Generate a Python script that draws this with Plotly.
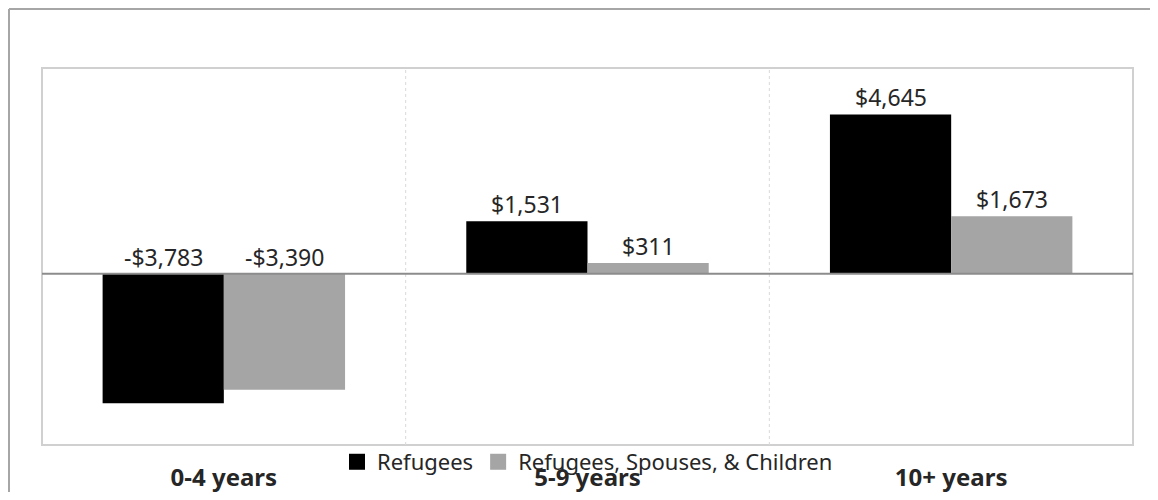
import plotly.graph_objects as go

categories = ["0-4 years", "5-9 years", "10+ years"]
refugees = [-3783, 1531, 4645]
family = [-3390, 311, 1673]
series_names = ["Refugees", "Refugees, Spouses, & Children"]
colors = ["#000000", "#a5a5a5"]

# page body has an 8px margin; figure is placed at (8, 8)
OFF = 8
W, H = 1142, 484
ML, MT = 42 - OFF, 68 - OFF
plot_w, plot_h = 1091, 377
MR = W - ML - plot_w
MB = H - MT - plot_h
x_range = [-0.5, 2.5]
px_per_cat = plot_w / (x_range[1] - x_range[0])
bar_w_px = px_per_cat / 3.0

def fmt(v):
    return ("-$" if v < 0 else "$") + f"{abs(v):,}"

fig = go.Figure()
for name, vals, col in zip(series_names, [refugees, family], colors):
    fig.add_trace(go.Bar(x=categories, y=vals, name=name, marker_color=col,
                         marker_line_width=0, showlegend=False))
# legend entries with larger square swatches
for name, col in zip(series_names, colors):
    fig.add_trace(go.Scatter(x=[None], y=[None], mode="markers", name=name,
                             marker=dict(symbol="square", size=16, color=col)))

annotations = []
for k, vals in enumerate([refugees, family]):
    shift = (-0.5 if k == 0 else 0.5) * bar_w_px
    for c, v in zip(categories, vals):
        annotations.append(dict(x=c, y=max(v, 0), text=fmt(v), showarrow=False,
                                xref="x", yref="y", yanchor="bottom", xshift=shift,
                                yshift=-1, font=dict(size=23, color="#262626",
                                                     family="Noto Sans")))

top_y = (445 - 9) / plot_h
left_x = (9 - 42) / plot_w
right_x = (1150 - 42) / plot_w
shapes = [
    # outer chart border (top and left edges visible)
    dict(type="line", xref="paper", yref="paper", x0=left_x, x1=right_x, y0=top_y, y1=top_y,
         line=dict(color="#a6a6a6", width=2), layer="below"),
    dict(type="line", xref="paper", yref="paper", x0=left_x, x1=left_x, y0=-0.4, y1=top_y,
         line=dict(color="#a6a6a6", width=2), layer="below"),
    # plot area box
    dict(type="rect", xref="paper", yref="paper", x0=0, x1=1, y0=0, y1=1,
         line=dict(color="#d0d0d0", width=2), layer="below"),
]
for b in [0.5, 1.5]:
    shapes.append(dict(type="line", xref="x", yref="paper", x0=b, x1=b, y0=0, y1=1,
                       line=dict(color="#d9d9d9", width=1, dash="dot"), layer="below"))
shapes.append(dict(type="line", xref="paper", yref="y", x0=0, x1=1, y0=0, y1=0,
                   line=dict(color="#8c8c8c", width=2)))

fig.update_layout(
    width=W, height=H,
    margin=dict(l=ML, r=MR, t=MT, b=MB, autoexpand=False),
    paper_bgcolor="white", plot_bgcolor="white",
    barmode="group", bargap=1/3, bargroupgap=0,
    font=dict(family="Noto Sans", color="#262626"),
    xaxis=dict(range=x_range, showgrid=False, zeroline=False, showline=False,
               ticks="", ticklabelstandoff=16, automargin=False,
               tickfont=dict(size=24, family="Noto Sans", color="#262626", weight="bold")),
    yaxis=dict(range=[-5000, 6000], showgrid=False, zeroline=False, showline=False,
               showticklabels=False, ticks="", automargin=False),
    legend=dict(orientation="h", x=0.5, xanchor="center", y=-0.045, yanchor="middle",
                font=dict(size=22, family="Noto Sans", color="#262626"),
                bgcolor="rgba(0,0,0,0)", itemwidth=30, traceorder="normal"),
    annotations=annotations,
    shapes=shapes,
)

fig.write_html("out.html")
